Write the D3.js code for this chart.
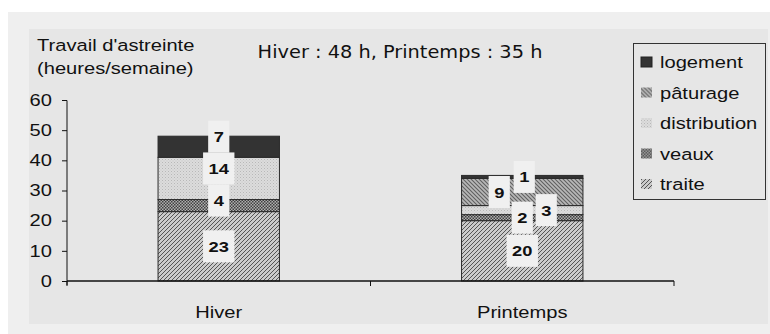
<!DOCTYPE html>
<html>
<head>
<meta charset="utf-8">
<script src="https://cdn.jsdelivr.net/npm/d3@7"></script>
<style>
  html, body { margin: 0; padding: 0; background: #ffffff; }
  svg { display: block; font-family: "Liberation Sans", Arial, sans-serif; }
</style>
</head>
<body>
<svg id="chart" width="770" height="334"></svg>
<script>
// data
const categories = ["Hiver", "Printemps"]
const seriesNames = ["traite", "veaux", "distribution", "pâturage", "logement"]
const traite = [23, 20]
const veaux = [4, 2]
const distribution = [14, 3]
const paturage = [0, 9]
const logement = [7, 1]
const yTicks = [0, 10, 20, 30, 40, 50, 60]
const legendOrder = ["logement", "pâturage", "distribution", "veaux", "traite"]
const title = "Hiver : 48 h, Printemps : 35 h"

const valuesBySeries = {
    "traite": traite,
    "veaux": veaux,
    "distribution": distribution,
    "pâturage": paturage,
    "logement": logement
}

const table = categories.map((c, i) => {
    const row = { cat: c }
    seriesNames.forEach(s => { row[s] = valuesBySeries[s][i] })
    return row
})

// the original picture is stretched sideways, so text is too
const SX = 1.22

const svg = d3.select("#chart")

// adds a text that is widened by SX around its anchor point
const stext = function(parent, x, y, str, size, anchor) {
    return parent.append("text")
        .attr("transform", `translate(${x},${y}) scale(${SX},1)`)
        .attr("text-anchor", anchor || "start")
        .attr("font-size", size)
        .attr("fill", "#111")
        .text(str)
}

// backgrounds
svg.append("rect").attr("x", 8).attr("y", 12).attr("width", 762).attr("height", 322).attr("fill", "#efefef")
svg.append("rect").attr("x", 29).attr("y", 29).attr("width", 739).attr("height", 295).attr("fill", "#e6e6e6")

// patterns
const defs = svg.append("defs")

const pTraite = defs.append("pattern").attr("id", "p-traite")
    .attr("patternUnits", "userSpaceOnUse").attr("width", 4).attr("height", 4)
pTraite.append("rect").attr("width", 4).attr("height", 4).attr("fill", "#cbcbcb")
pTraite.append("path").attr("d", "M-1,1 l2,-2 M0,4 l4,-4 M3,5 l2,-2")
    .attr("stroke", "#555").attr("stroke-width", 1)

const pPat = defs.append("pattern").attr("id", "p-paturage")
    .attr("patternUnits", "userSpaceOnUse").attr("width", 4).attr("height", 4)
pPat.append("rect").attr("width", 4).attr("height", 4).attr("fill", "#b8b8b8")
pPat.append("path").attr("d", "M-1,3 l2,2 M0,0 l4,4 M3,-1 l2,2")
    .attr("stroke", "#606060").attr("stroke-width", 1.1)

const pVeaux = defs.append("pattern").attr("id", "p-veaux")
    .attr("patternUnits", "userSpaceOnUse").attr("width", 3).attr("height", 3)
pVeaux.append("rect").attr("width", 3).attr("height", 3).attr("fill", "#b0b0b0")
pVeaux.append("rect").attr("width", 1.5).attr("height", 1.5).attr("fill", "#404040")
pVeaux.append("rect").attr("x", 1.5).attr("y", 1.5).attr("width", 1.5).attr("height", 1.5).attr("fill", "#404040")

const pDist = defs.append("pattern").attr("id", "p-distribution")
    .attr("patternUnits", "userSpaceOnUse").attr("width", 3).attr("height", 3)
pDist.append("rect").attr("width", 3).attr("height", 3).attr("fill", "#dcdcdc")
pDist.append("rect").attr("width", 1).attr("height", 1).attr("fill", "#b8b8b8")
pDist.append("rect").attr("x", 1.5).attr("y", 1.5).attr("width", 1).attr("height", 1).attr("fill", "#c6c6c6")

const fills = {
    "traite": "url(#p-traite)",
    "veaux": "url(#p-veaux)",
    "distribution": "url(#p-distribution)",
    "pâturage": "url(#p-paturage)",
    "logement": "#333333"
}

// scales
const y = d3.scaleLinear().domain([0, 60]).range([281, 100])
const x = d3.scaleBand().domain(categories).range([67, 674])
const barW = x.bandwidth() * 0.4

const stacked = d3.stack().keys(seriesNames)(table)

// bars
const g = svg.append("g")
stacked.forEach(layer => {
    g.selectAll(null)
        .data(layer.filter(d => d[1] > d[0]))
        .enter()
        .append("rect")
            .attr("x", d => x(d.data.cat) + (x.bandwidth() - barW) / 2)
            .attr("y", d => y(d[1]))
            .attr("width", barW)
            .attr("height", d => y(d[0]) - y(d[1]))
            .attr("fill", fills[layer.key])
            .attr("stroke", "#2a2a2a")
            .attr("stroke-width", 1)
})

// axes
const yAxis = d3.axisLeft(y).tickValues(yTicks).tickSize(5).tickPadding(5)
const yg = svg.append("g").attr("transform", "translate(67,0)").call(yAxis)
yg.select(".domain").attr("d", "M-5,100.5H0V285").attr("stroke", "#111")
yg.selectAll("line").attr("stroke", "#111")
yg.selectAll("text")
    .attr("font-size", 16.5)
    .attr("fill", "#111")
    .attr("font-family", "Liberation Sans, Arial, sans-serif")
    .attr("x", -15 / SX)
    .attr("transform", `scale(${SX},1)`)

const xg = svg.append("g").attr("transform", "translate(0,281)")
xg.append("line").attr("x1", 67).attr("x2", 674).attr("stroke", "#111").attr("stroke-width", 1.3)
const xEdges = [x.range()[0], x(categories[1]), x.range()[1]]
xg.selectAll(".xt").data(xEdges).enter().append("line")
    .attr("x1", d => d).attr("x2", d => d).attr("y1", 0).attr("y2", 5)
    .attr("stroke", "#111")
categories.forEach(c => {
    stext(xg, x(c) + x.bandwidth() / 2, 37, c, 16.5, "middle")
})

// value labels, nudged like the original so they do not overlap
const nudge = {
    "Hiver|logement": [0, -10],
    "Hiver|distribution": [0, -10],
    "Hiver|veaux": [0, -5],
    "Printemps|pâturage": [-23, 0],
    "Printemps|distribution": [24, 0],
    "Printemps|logement": [2, 0]
}
const labels = []
stacked.forEach(layer => {
    layer.forEach(d => {
        if (d[1] > d[0]) {
            const key = d.data.cat + "|" + layer.key
            const off = nudge[key] || [0, 0]
            labels.push({
                text: String(d[1] - d[0]),
                cx: x(d.data.cat) + x.bandwidth() / 2 + off[0],
                cy: y((d[0] + d[1]) / 2) + off[1]
            })
        }
    })
})
const boxLayer = svg.append("g")
const textLayer = svg.append("g")
labels.forEach(d => {
    const t = stext(textLayer, d.cx, d.cy + 5.5, d.text, 15, "middle").attr("font-weight", "bold")
    const w = t.node().getComputedTextLength() * SX + 11
    boxLayer.append("rect")
        .attr("x", d.cx - w / 2)
        .attr("y", d.cy - 16)
        .attr("width", w)
        .attr("height", 32)
        .attr("fill", "#f0f0f0")
})

// y axis title
stext(svg, 37, 51, "Travail d'astreinte", 16.5)
stext(svg, 37, 74, "(heures/semaine)", 16.5)

// chart title, fitted to the width it has in the original
const tt = svg.append("text")
    .attr("font-size", 17)
    .attr("fill", "#111")
    .attr("font-family", "'DejaVu Sans', sans-serif")
    .attr("text-anchor", "middle")
    .text(title)
const tScale = 285 / tt.node().getComputedTextLength()
tt.attr("transform", `translate(400,58) scale(${tScale},1)`)

// legend
const leg = svg.append("g")
leg.append("rect").attr("x", 633.5).attr("y", 43.5).attr("width", 132).attr("height", 156)
    .attr("fill", "#e6e6e6").attr("stroke", "#333").attr("stroke-width", 1)
const legY = d3.scalePoint().domain(legendOrder).range([62, 184])
const items = leg.selectAll(".item").data(legendOrder).enter().append("g")
    .attr("transform", d => `translate(641,${legY(d)})`)
items.append("rect").attr("x", 0).attr("y", -5).attr("width", 11).attr("height", 10)
    .attr("fill", d => fills[d]).attr("stroke", d => d === "logement" ? "#222" : "none")
items.each(function(d) {
    stext(d3.select(this), 19, 6, d, 16.5)
})
</script>
</body>
</html>
